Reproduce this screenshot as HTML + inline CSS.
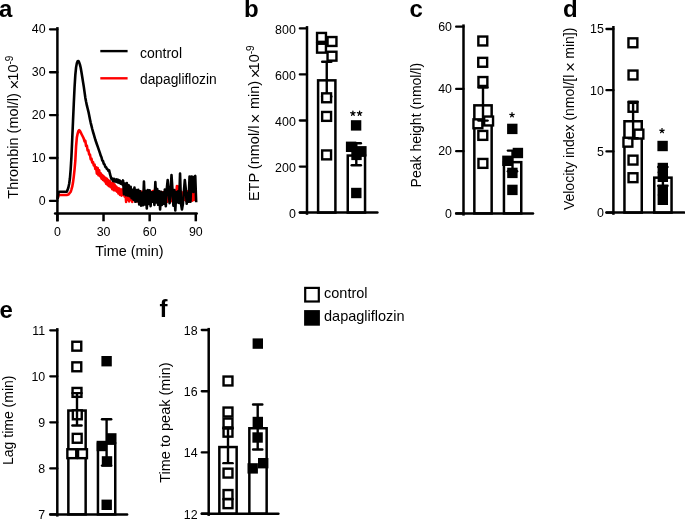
<!DOCTYPE html>
<html><head><meta charset="utf-8"><style>
html,body{margin:0;padding:0;background:#fff;}
svg{display:block;will-change:transform;}
text{font-family:"Liberation Sans",sans-serif;fill:#000;}
</style></head><body>
<svg width="685" height="519" viewBox="0 0 685 519">
<rect width="685" height="519" fill="#fff"/>
<text x="-1.00" y="17.30" font-size="24" text-anchor="start" font-weight="bold" >a</text>
<text x="244.00" y="17.30" font-size="24" text-anchor="start" font-weight="bold" >b</text>
<text x="409.60" y="17.30" font-size="24" text-anchor="start" font-weight="bold" >c</text>
<text x="562.90" y="17.30" font-size="24" text-anchor="start" font-weight="bold" >d</text>
<text x="-0.50" y="318.00" font-size="24" text-anchor="start" font-weight="bold" >e</text>
<text x="159.40" y="317.40" font-size="24" text-anchor="start" font-weight="bold" >f</text>
<polyline points="57.60,199.00 58.37,195.92 59.14,195.00 59.91,195.00 60.68,195.00 61.45,195.00 62.22,195.00 62.99,195.00 63.76,195.00 64.53,195.00 65.30,195.00 66.07,195.00 66.84,194.96 67.61,194.75 68.38,194.53 69.15,193.68 69.92,192.71 70.69,191.74 71.46,189.35 72.23,186.72 73.00,182.58 73.77,176.64 74.54,169.56 75.31,161.00 76.08,146.40 76.85,137.50 77.62,133.84 78.39,131.04 79.16,130.16 79.93,130.94 80.70,132.33 81.47,133.94 82.24,135.48 83.01,137.02 83.78,138.56 84.55,141.34 85.32,140.95 86.09,146.04 86.86,145.62 87.63,150.42 88.40,150.13 89.17,154.64 89.94,154.58 90.71,159.36 91.48,158.70 92.25,162.58 93.02,162.02 93.79,165.54 94.56,164.61 95.33,168.94 96.10,167.10 96.87,173.70 97.64,167.93 98.41,175.09 99.18,170.36 99.95,176.23 100.72,173.17 101.49,178.68 102.26,174.99 103.03,179.96 103.80,176.41 104.57,181.41 105.34,177.76 106.11,183.73 106.88,178.70 107.65,185.10 108.42,180.17 109.19,186.23 109.96,181.29 110.73,187.31 111.50,182.99 112.27,189.23 113.04,182.99 113.81,190.09 114.58,184.57 115.35,190.47 116.12,186.49 116.89,191.61 117.66,187.91 118.43,193.53 119.20,188.59 119.97,194.83 120.74,189.64 121.51,195.68 122.28,189.42 123.05,194.70 123.82,190.88 124.59,196.57 125.36,190.96 126.13,201.95 126.90,192.49 127.67,199.71 128.44,191.92 129.21,201.45 129.98,192.81 130.75,199.74 131.52,192.65 132.29,201.91 133.06,191.60 133.83,199.82 134.60,192.87 135.37,199.78 136.14,193.33 136.91,201.50 137.68,193.04 138.45,200.91 139.22,192.37 139.99,200.00 140.76,191.66 141.53,199.85 142.30,191.88 143.07,199.81 143.84,192.43 144.61,200.05 145.38,192.81 146.15,201.93 146.92,191.49 147.69,200.28 148.46,191.28 149.23,200.05 150.00,192.50 150.77,201.64 151.54,191.89 152.31,199.77 153.08,191.03 153.85,200.05 154.62,192.84 155.39,187.50 156.16,192.66 156.93,200.26 157.70,193.29 158.47,199.75 159.24,192.03 160.01,200.13 160.78,191.99 161.55,200.44 162.32,192.35 163.09,201.90 163.86,192.28 164.63,200.95 165.40,191.33 166.17,199.98 166.94,193.09 167.71,201.77 168.48,191.45 169.25,200.14 170.02,193.01 170.79,201.36 171.56,191.15 172.33,200.01 173.10,191.12 173.87,201.71 174.64,191.98 175.41,200.57 176.18,193.22 176.95,186.00 177.72,191.09 178.49,186.50 179.26,191.73 180.03,200.16 180.80,191.44 181.57,201.00 182.34,192.75 183.11,199.96 183.88,191.69 184.65,199.70 185.42,192.91 186.19,200.91 186.96,191.37 187.73,201.05 188.50,192.78 189.27,201.80 190.04,192.97 190.81,199.57 191.58,192.81 192.35,200.63 193.12,193.33 193.89,199.96 194.66,192.56 195.43,200.94" fill="none" stroke="#f00" stroke-width="2.6" stroke-linejoin="round"/>
<polyline points="57.60,199.00 58.37,193.38 59.14,191.70 59.91,191.70 60.68,191.70 61.45,191.70 62.22,191.70 62.99,191.70 63.76,191.70 64.53,191.70 65.30,191.70 66.07,191.70 66.84,191.70 67.61,189.83 68.38,187.48 69.15,184.02 69.92,178.53 70.69,169.15 71.46,156.36 72.23,138.86 73.00,121.36 73.77,104.00 74.54,87.71 75.31,75.11 76.08,67.36 76.85,63.11 77.62,61.19 78.39,60.97 79.16,62.42 79.93,64.63 80.70,67.75 81.47,72.24 82.24,77.07 83.01,81.91 83.78,86.65 84.55,92.12 85.32,97.65 86.09,101.79 86.86,105.44 87.63,108.52 88.40,111.60 89.17,115.35 89.94,119.20 90.71,122.84 91.48,125.92 92.25,129.00 93.02,131.79 93.79,134.45 94.56,137.10 95.33,139.76 96.10,142.00 96.87,144.20 97.64,146.40 98.41,148.60 99.18,150.82 99.95,153.09 100.72,155.67 101.49,157.23 102.26,160.45 103.03,161.03 103.80,163.82 104.57,164.55 105.34,166.94 106.11,167.24 106.88,168.91 107.65,169.35 108.42,170.85 109.19,170.44 109.96,173.97 110.73,176.75 111.50,179.08 112.27,178.63 113.04,180.79 113.81,178.80 114.58,181.47 115.35,179.47 116.12,181.56 116.89,179.38 117.66,182.32 118.43,179.92 119.20,182.83 119.97,180.62 120.74,183.75 121.51,181.72 122.28,184.30 123.05,180.42 124.00,194.17 124.95,183.54 125.90,195.13 126.85,183.09 127.80,195.56 128.75,185.28 129.70,196.09 130.65,186.71 131.60,198.23 132.55,189.91 133.50,199.61 134.45,187.66 135.40,201.80 136.35,189.95 137.30,201.18 138.25,189.81 139.20,204.43 140.15,191.27 141.10,205.70 142.05,193.04 143.00,205.26 143.95,181.50 144.90,204.53 145.85,191.07 146.80,208.50 147.75,189.99 148.70,204.01 149.65,190.41 150.60,206.11 151.55,192.18 152.50,201.61 153.45,191.96 154.40,204.91 155.35,182.00 156.30,202.39 157.25,188.97 158.20,204.82 159.15,191.26 160.10,209.50 161.05,191.83 162.00,204.85 162.95,192.47 163.90,203.68 164.85,189.46 165.80,206.08 166.75,189.09 167.70,180.00 168.65,190.56 169.60,203.12 170.55,192.78 171.50,175.00 172.45,189.31 173.40,205.75 174.35,189.93 175.30,210.50 176.25,192.08 177.20,202.39 178.15,191.22 179.10,202.91 180.05,173.50 181.00,203.60 181.95,209.50 182.90,203.99 183.85,191.89 184.80,180.00 185.75,188.59 186.70,203.79 187.65,193.08 188.60,201.71 189.55,176.50 190.50,201.76 191.45,176.50 192.40,177.00 193.35,191.92 194.30,177.00 195.25,176.00 196.20,202.22" fill="none" stroke="#000" stroke-width="2.6" stroke-linejoin="round"/>
<line x1="57.40" y1="27.10" x2="57.40" y2="221.30" stroke="#000" stroke-width="2.5" stroke-linecap="butt"/>
<line x1="55.10" y1="213.50" x2="196.70" y2="213.50" stroke="#000" stroke-width="2.5" stroke-linecap="round"/>
<line x1="50.00" y1="200.90" x2="57.40" y2="200.90" stroke="#000" stroke-width="2.3" stroke-linecap="round"/>
<text x="45.60" y="204.50" font-size="12.4" text-anchor="end" font-weight="normal" >0</text>
<line x1="50.00" y1="158.01" x2="57.40" y2="158.01" stroke="#000" stroke-width="2.3" stroke-linecap="round"/>
<text x="45.60" y="161.61" font-size="12.4" text-anchor="end" font-weight="normal" >10</text>
<line x1="50.00" y1="115.12" x2="57.40" y2="115.12" stroke="#000" stroke-width="2.3" stroke-linecap="round"/>
<text x="45.60" y="118.72" font-size="12.4" text-anchor="end" font-weight="normal" >20</text>
<line x1="50.00" y1="72.23" x2="57.40" y2="72.23" stroke="#000" stroke-width="2.3" stroke-linecap="round"/>
<text x="45.60" y="75.83" font-size="12.4" text-anchor="end" font-weight="normal" >30</text>
<line x1="50.00" y1="29.34" x2="57.40" y2="29.34" stroke="#000" stroke-width="2.3" stroke-linecap="round"/>
<text x="45.60" y="32.94" font-size="12.4" text-anchor="end" font-weight="normal" >40</text>
<line x1="57.40" y1="213.50" x2="57.40" y2="221.30" stroke="#000" stroke-width="2.5" stroke-linecap="butt"/>
<text x="57.40" y="235.60" font-size="12.4" text-anchor="middle" font-weight="normal" >0</text>
<line x1="103.53" y1="213.50" x2="103.53" y2="221.30" stroke="#000" stroke-width="2.5" stroke-linecap="butt"/>
<text x="103.53" y="235.60" font-size="12.4" text-anchor="middle" font-weight="normal" >30</text>
<line x1="149.66" y1="213.50" x2="149.66" y2="221.30" stroke="#000" stroke-width="2.5" stroke-linecap="butt"/>
<text x="149.66" y="235.60" font-size="12.4" text-anchor="middle" font-weight="normal" >60</text>
<line x1="195.79" y1="213.50" x2="195.79" y2="221.30" stroke="#000" stroke-width="2.5" stroke-linecap="butt"/>
<text x="195.79" y="235.60" font-size="12.4" text-anchor="middle" font-weight="normal" >90</text>
<text x="95.30" y="255.90" font-size="14.4" text-anchor="start" font-weight="normal" >Time (min)</text>
<text transform="translate(17.90,198.70) rotate(-90)" font-size="14.5">Thrombin (mol/l) <tspan font-size="17" dx="-0.5" dy="2.3">×</tspan><tspan dx="-0.96" dy="-2.3">10</tspan><tspan font-size="10" dy="-5.1">-9</tspan></text>
<line x1="100.30" y1="51.10" x2="127.60" y2="51.10" stroke="#000" stroke-width="2.4" stroke-linecap="butt"/>
<line x1="100.30" y1="78.30" x2="127.60" y2="78.30" stroke="#f00" stroke-width="2.4" stroke-linecap="butt"/>
<text x="140.00" y="57.60" font-size="14" text-anchor="start" font-weight="normal" >control</text>
<text x="140.00" y="83.60" font-size="13.8" text-anchor="start" font-weight="normal" >dapagliflozin</text>
<rect x="318.10" y="80.35" width="17.30" height="132.25" fill="#fff" stroke="#000" stroke-width="2.5"/>
<rect x="347.75" y="155.55" width="17.30" height="57.05" fill="#fff" stroke="#000" stroke-width="2.5"/>
<line x1="326.75" y1="61.70" x2="326.75" y2="96.50" stroke="#000" stroke-width="2.4" stroke-linecap="butt"/>
<line x1="322.15" y1="61.70" x2="331.35" y2="61.70" stroke="#000" stroke-width="2.4" stroke-linecap="round"/>
<line x1="322.15" y1="96.50" x2="331.35" y2="96.50" stroke="#000" stroke-width="2.4" stroke-linecap="round"/>
<line x1="356.30" y1="143.30" x2="356.30" y2="165.30" stroke="#000" stroke-width="2.4" stroke-linecap="butt"/>
<line x1="351.70" y1="143.30" x2="360.90" y2="143.30" stroke="#000" stroke-width="2.4" stroke-linecap="round"/>
<line x1="351.70" y1="165.30" x2="360.90" y2="165.30" stroke="#000" stroke-width="2.4" stroke-linecap="round"/>
<rect x="317.05" y="32.95" width="8.90" height="8.90" fill="#fff" stroke="#000" stroke-width="2.4"/>
<rect x="317.05" y="43.75" width="8.90" height="8.90" fill="#fff" stroke="#000" stroke-width="2.4"/>
<rect x="327.55" y="37.05" width="8.90" height="8.90" fill="#fff" stroke="#000" stroke-width="2.4"/>
<rect x="327.55" y="51.75" width="8.90" height="8.90" fill="#fff" stroke="#000" stroke-width="2.4"/>
<rect x="322.15" y="93.35" width="8.90" height="8.90" fill="#fff" stroke="#000" stroke-width="2.4"/>
<rect x="322.15" y="111.95" width="8.90" height="8.90" fill="#fff" stroke="#000" stroke-width="2.4"/>
<rect x="322.15" y="150.45" width="8.90" height="8.90" fill="#fff" stroke="#000" stroke-width="2.4"/>
<rect x="350.90" y="120.20" width="10.40" height="10.40" fill="#000"/>
<rect x="345.90" y="141.60" width="10.40" height="10.40" fill="#000"/>
<rect x="356.20" y="146.10" width="10.40" height="10.40" fill="#000"/>
<rect x="351.30" y="149.70" width="10.40" height="10.40" fill="#000"/>
<rect x="351.10" y="187.80" width="10.40" height="10.40" fill="#000"/>
<line x1="307.00" y1="26.10" x2="307.00" y2="214.80" stroke="#000" stroke-width="2.5" stroke-linecap="butt"/>
<line x1="299.90" y1="212.60" x2="377.40" y2="212.60" stroke="#000" stroke-width="2.5" stroke-linecap="round"/>
<line x1="299.85" y1="212.60" x2="307.00" y2="212.60" stroke="#000" stroke-width="2.3" stroke-linecap="round"/>
<text x="295.80" y="218.10" font-size="12.4" text-anchor="end" font-weight="normal" >0</text>
<line x1="299.85" y1="166.55" x2="307.00" y2="166.55" stroke="#000" stroke-width="2.3" stroke-linecap="round"/>
<text x="295.80" y="172.05" font-size="12.4" text-anchor="end" font-weight="normal" >200</text>
<line x1="299.85" y1="120.50" x2="307.00" y2="120.50" stroke="#000" stroke-width="2.3" stroke-linecap="round"/>
<text x="295.80" y="126.00" font-size="12.4" text-anchor="end" font-weight="normal" >400</text>
<line x1="299.85" y1="74.45" x2="307.00" y2="74.45" stroke="#000" stroke-width="2.3" stroke-linecap="round"/>
<text x="295.80" y="79.95" font-size="12.4" text-anchor="end" font-weight="normal" >600</text>
<line x1="299.85" y1="28.40" x2="307.00" y2="28.40" stroke="#000" stroke-width="2.3" stroke-linecap="round"/>
<text x="295.80" y="33.90" font-size="12.4" text-anchor="end" font-weight="normal" >800</text>
<text transform="translate(258.80,201.10) rotate(-90)" font-size="14.5">ETP (nmol/l <tspan font-size="17" dx="-1.8" dy="2.5">×</tspan><tspan dx="0.34" dy="-2.5"> min) </tspan><tspan font-size="17" dx="-1.5" dy="2.3">×</tspan><tspan dx="-1.96" dy="-2.3">10</tspan><tspan font-size="10" dy="-5.1">-9</tspan></text>
<line x1="352.90" y1="113.40" x2="352.90" y2="111.10" stroke="#000" stroke-width="1.25" stroke-linecap="round"/>
<line x1="352.90" y1="113.40" x2="355.09" y2="112.69" stroke="#000" stroke-width="1.25" stroke-linecap="round"/>
<line x1="352.90" y1="113.40" x2="354.25" y2="115.26" stroke="#000" stroke-width="1.25" stroke-linecap="round"/>
<line x1="352.90" y1="113.40" x2="351.55" y2="115.26" stroke="#000" stroke-width="1.25" stroke-linecap="round"/>
<line x1="352.90" y1="113.40" x2="350.71" y2="112.69" stroke="#000" stroke-width="1.25" stroke-linecap="round"/>
<line x1="359.60" y1="113.40" x2="359.60" y2="111.10" stroke="#000" stroke-width="1.25" stroke-linecap="round"/>
<line x1="359.60" y1="113.40" x2="361.79" y2="112.69" stroke="#000" stroke-width="1.25" stroke-linecap="round"/>
<line x1="359.60" y1="113.40" x2="360.95" y2="115.26" stroke="#000" stroke-width="1.25" stroke-linecap="round"/>
<line x1="359.60" y1="113.40" x2="358.25" y2="115.26" stroke="#000" stroke-width="1.25" stroke-linecap="round"/>
<line x1="359.60" y1="113.40" x2="357.41" y2="112.69" stroke="#000" stroke-width="1.25" stroke-linecap="round"/>
<rect x="474.35" y="105.35" width="17.30" height="108.05" fill="#fff" stroke="#000" stroke-width="2.5"/>
<rect x="503.95" y="162.15" width="17.30" height="51.25" fill="#fff" stroke="#000" stroke-width="2.5"/>
<rect x="478.35" y="36.55" width="8.90" height="8.90" fill="#fff" stroke="#000" stroke-width="2.4"/>
<rect x="478.25" y="57.85" width="8.90" height="8.90" fill="#fff" stroke="#000" stroke-width="2.4"/>
<rect x="478.45" y="77.05" width="8.90" height="8.90" fill="#fff" stroke="#000" stroke-width="2.4"/>
<rect x="484.15" y="116.55" width="8.90" height="8.90" fill="#fff" stroke="#000" stroke-width="2.4"/>
<rect x="473.45" y="119.35" width="8.90" height="8.90" fill="#fff" stroke="#000" stroke-width="2.4"/>
<rect x="478.35" y="130.95" width="8.90" height="8.90" fill="#fff" stroke="#000" stroke-width="2.4"/>
<rect x="478.45" y="158.95" width="8.90" height="8.90" fill="#fff" stroke="#000" stroke-width="2.4"/>
<rect x="507.10" y="123.70" width="10.40" height="10.40" fill="#000"/>
<rect x="512.70" y="147.80" width="10.40" height="10.40" fill="#000"/>
<rect x="502.20" y="155.60" width="10.40" height="10.40" fill="#000"/>
<rect x="507.20" y="167.70" width="10.40" height="10.40" fill="#000"/>
<rect x="507.20" y="184.70" width="10.40" height="10.40" fill="#000"/>
<line x1="483.00" y1="87.60" x2="483.00" y2="120.60" stroke="#000" stroke-width="2.4" stroke-linecap="butt"/>
<line x1="478.40" y1="87.60" x2="487.60" y2="87.60" stroke="#000" stroke-width="2.4" stroke-linecap="round"/>
<line x1="478.40" y1="120.60" x2="487.60" y2="120.60" stroke="#000" stroke-width="2.4" stroke-linecap="round"/>
<line x1="512.50" y1="150.60" x2="512.50" y2="171.20" stroke="#000" stroke-width="2.4" stroke-linecap="butt"/>
<line x1="507.90" y1="150.60" x2="517.10" y2="150.60" stroke="#000" stroke-width="2.4" stroke-linecap="round"/>
<line x1="507.90" y1="171.20" x2="517.10" y2="171.20" stroke="#000" stroke-width="2.4" stroke-linecap="round"/>
<line x1="463.50" y1="24.40" x2="463.50" y2="215.60" stroke="#000" stroke-width="2.5" stroke-linecap="butt"/>
<line x1="456.20" y1="213.40" x2="533.00" y2="213.40" stroke="#000" stroke-width="2.5" stroke-linecap="round"/>
<line x1="456.15" y1="213.40" x2="463.50" y2="213.40" stroke="#000" stroke-width="2.3" stroke-linecap="round"/>
<text x="452.00" y="217.60" font-size="12.4" text-anchor="end" font-weight="normal" >0</text>
<line x1="456.15" y1="151.17" x2="463.50" y2="151.17" stroke="#000" stroke-width="2.3" stroke-linecap="round"/>
<text x="452.00" y="155.37" font-size="12.4" text-anchor="end" font-weight="normal" >20</text>
<line x1="456.15" y1="88.93" x2="463.50" y2="88.93" stroke="#000" stroke-width="2.3" stroke-linecap="round"/>
<text x="452.00" y="93.13" font-size="12.4" text-anchor="end" font-weight="normal" >40</text>
<line x1="456.15" y1="26.70" x2="463.50" y2="26.70" stroke="#000" stroke-width="2.3" stroke-linecap="round"/>
<text x="452.00" y="30.90" font-size="12.4" text-anchor="end" font-weight="normal" >60</text>
<text transform="translate(421.30,187.40) rotate(-90)" font-size="14">Peak height (nmol/l)</text>
<line x1="512.00" y1="115.00" x2="512.00" y2="112.70" stroke="#000" stroke-width="1.25" stroke-linecap="round"/>
<line x1="512.00" y1="115.00" x2="514.19" y2="114.29" stroke="#000" stroke-width="1.25" stroke-linecap="round"/>
<line x1="512.00" y1="115.00" x2="513.35" y2="116.86" stroke="#000" stroke-width="1.25" stroke-linecap="round"/>
<line x1="512.00" y1="115.00" x2="510.65" y2="116.86" stroke="#000" stroke-width="1.25" stroke-linecap="round"/>
<line x1="512.00" y1="115.00" x2="509.81" y2="114.29" stroke="#000" stroke-width="1.25" stroke-linecap="round"/>
<rect x="624.45" y="121.25" width="17.30" height="91.35" fill="#fff" stroke="#000" stroke-width="2.5"/>
<rect x="654.25" y="177.65" width="17.30" height="34.95" fill="#fff" stroke="#000" stroke-width="2.5"/>
<rect x="628.45" y="38.35" width="8.90" height="8.90" fill="#fff" stroke="#000" stroke-width="2.4"/>
<rect x="628.55" y="70.55" width="8.90" height="8.90" fill="#fff" stroke="#000" stroke-width="2.4"/>
<rect x="628.55" y="102.85" width="8.90" height="8.90" fill="#fff" stroke="#000" stroke-width="2.4"/>
<rect x="634.45" y="129.65" width="8.90" height="8.90" fill="#fff" stroke="#000" stroke-width="2.4"/>
<rect x="623.45" y="137.75" width="8.90" height="8.90" fill="#fff" stroke="#000" stroke-width="2.4"/>
<rect x="628.55" y="155.65" width="8.90" height="8.90" fill="#fff" stroke="#000" stroke-width="2.4"/>
<rect x="628.55" y="173.25" width="8.90" height="8.90" fill="#fff" stroke="#000" stroke-width="2.4"/>
<rect x="657.40" y="140.80" width="10.40" height="10.40" fill="#000"/>
<rect x="657.60" y="162.80" width="10.40" height="10.40" fill="#000"/>
<rect x="657.60" y="171.60" width="10.40" height="10.40" fill="#000"/>
<rect x="657.60" y="185.00" width="10.40" height="10.40" fill="#000"/>
<rect x="657.60" y="194.60" width="10.40" height="10.40" fill="#000"/>
<line x1="633.10" y1="101.70" x2="633.10" y2="138.30" stroke="#000" stroke-width="2.4" stroke-linecap="butt"/>
<line x1="628.50" y1="101.70" x2="637.70" y2="101.70" stroke="#000" stroke-width="2.4" stroke-linecap="round"/>
<line x1="628.50" y1="138.30" x2="637.70" y2="138.30" stroke="#000" stroke-width="2.4" stroke-linecap="round"/>
<line x1="662.90" y1="167.00" x2="662.90" y2="185.80" stroke="#000" stroke-width="2.4" stroke-linecap="butt"/>
<line x1="658.30" y1="167.00" x2="667.50" y2="167.00" stroke="#000" stroke-width="2.4" stroke-linecap="round"/>
<line x1="658.30" y1="185.80" x2="667.50" y2="185.80" stroke="#000" stroke-width="2.4" stroke-linecap="round"/>
<line x1="613.40" y1="26.00" x2="613.40" y2="214.80" stroke="#000" stroke-width="2.5" stroke-linecap="butt"/>
<line x1="606.50" y1="212.60" x2="684.30" y2="212.60" stroke="#000" stroke-width="2.5" stroke-linecap="round"/>
<line x1="606.45" y1="212.60" x2="613.40" y2="212.60" stroke="#000" stroke-width="2.3" stroke-linecap="round"/>
<text x="603.80" y="217.00" font-size="12.4" text-anchor="end" font-weight="normal" >0</text>
<line x1="606.45" y1="151.40" x2="613.40" y2="151.40" stroke="#000" stroke-width="2.3" stroke-linecap="round"/>
<text x="603.80" y="155.80" font-size="12.4" text-anchor="end" font-weight="normal" >5</text>
<line x1="606.45" y1="90.20" x2="613.40" y2="90.20" stroke="#000" stroke-width="2.3" stroke-linecap="round"/>
<text x="603.80" y="94.60" font-size="12.4" text-anchor="end" font-weight="normal" >10</text>
<line x1="606.45" y1="29.00" x2="613.40" y2="29.00" stroke="#000" stroke-width="2.3" stroke-linecap="round"/>
<text x="603.80" y="33.40" font-size="12.4" text-anchor="end" font-weight="normal" >15</text>
<text transform="translate(574.20,210.10) rotate(-90)" font-size="14">Velocity index (nmol/[l <tspan font-size="17" dx="-1.1" dy="1.5">×</tspan><tspan dx="-0.65" dy="-1.5"> min])</tspan></text>
<line x1="662.00" y1="130.80" x2="662.00" y2="128.50" stroke="#000" stroke-width="1.25" stroke-linecap="round"/>
<line x1="662.00" y1="130.80" x2="664.19" y2="130.09" stroke="#000" stroke-width="1.25" stroke-linecap="round"/>
<line x1="662.00" y1="130.80" x2="663.35" y2="132.66" stroke="#000" stroke-width="1.25" stroke-linecap="round"/>
<line x1="662.00" y1="130.80" x2="660.65" y2="132.66" stroke="#000" stroke-width="1.25" stroke-linecap="round"/>
<line x1="662.00" y1="130.80" x2="659.81" y2="130.09" stroke="#000" stroke-width="1.25" stroke-linecap="round"/>
<rect x="68.35" y="410.55" width="17.30" height="103.85" fill="#fff" stroke="#000" stroke-width="2.5"/>
<rect x="97.95" y="443.65" width="17.30" height="70.75" fill="#fff" stroke="#000" stroke-width="2.5"/>
<rect x="72.35" y="341.75" width="8.90" height="8.90" fill="#fff" stroke="#000" stroke-width="2.4"/>
<rect x="72.35" y="362.35" width="8.90" height="8.90" fill="#fff" stroke="#000" stroke-width="2.4"/>
<rect x="72.55" y="387.95" width="8.90" height="8.90" fill="#fff" stroke="#000" stroke-width="2.4"/>
<rect x="72.85" y="410.35" width="8.90" height="8.90" fill="#fff" stroke="#000" stroke-width="2.4"/>
<rect x="72.75" y="433.85" width="8.90" height="8.90" fill="#fff" stroke="#000" stroke-width="2.4"/>
<rect x="67.35" y="449.25" width="8.90" height="8.90" fill="#fff" stroke="#000" stroke-width="2.4"/>
<rect x="78.05" y="449.25" width="8.90" height="8.90" fill="#fff" stroke="#000" stroke-width="2.4"/>
<rect x="101.40" y="356.00" width="10.40" height="10.40" fill="#000"/>
<rect x="106.10" y="433.20" width="10.40" height="10.40" fill="#000"/>
<rect x="96.60" y="440.80" width="10.40" height="10.40" fill="#000"/>
<rect x="101.80" y="456.20" width="10.40" height="10.40" fill="#000"/>
<rect x="101.50" y="499.60" width="10.40" height="10.40" fill="#000"/>
<line x1="77.00" y1="393.10" x2="77.00" y2="425.50" stroke="#000" stroke-width="2.4" stroke-linecap="butt"/>
<line x1="72.40" y1="393.10" x2="81.60" y2="393.10" stroke="#000" stroke-width="2.4" stroke-linecap="round"/>
<line x1="72.40" y1="425.50" x2="81.60" y2="425.50" stroke="#000" stroke-width="2.4" stroke-linecap="round"/>
<line x1="106.60" y1="419.20" x2="106.60" y2="465.60" stroke="#000" stroke-width="2.4" stroke-linecap="butt"/>
<line x1="102.00" y1="419.20" x2="111.20" y2="419.20" stroke="#000" stroke-width="2.4" stroke-linecap="round"/>
<line x1="102.00" y1="465.60" x2="111.20" y2="465.60" stroke="#000" stroke-width="2.4" stroke-linecap="round"/>
<line x1="57.30" y1="328.10" x2="57.30" y2="516.60" stroke="#000" stroke-width="2.5" stroke-linecap="butt"/>
<line x1="50.30" y1="514.40" x2="127.10" y2="514.40" stroke="#000" stroke-width="2.5" stroke-linecap="round"/>
<line x1="50.25" y1="514.40" x2="57.30" y2="514.40" stroke="#000" stroke-width="2.3" stroke-linecap="round"/>
<text x="45.20" y="518.60" font-size="12.4" text-anchor="end" font-weight="normal" >7</text>
<line x1="50.25" y1="468.38" x2="57.30" y2="468.38" stroke="#000" stroke-width="2.3" stroke-linecap="round"/>
<text x="45.20" y="472.57" font-size="12.4" text-anchor="end" font-weight="normal" >8</text>
<line x1="50.25" y1="422.35" x2="57.30" y2="422.35" stroke="#000" stroke-width="2.3" stroke-linecap="round"/>
<text x="45.20" y="426.55" font-size="12.4" text-anchor="end" font-weight="normal" >9</text>
<line x1="50.25" y1="376.32" x2="57.30" y2="376.32" stroke="#000" stroke-width="2.3" stroke-linecap="round"/>
<text x="45.20" y="380.52" font-size="12.4" text-anchor="end" font-weight="normal" >10</text>
<line x1="50.25" y1="330.30" x2="57.30" y2="330.30" stroke="#000" stroke-width="2.3" stroke-linecap="round"/>
<text x="45.20" y="334.50" font-size="12.4" text-anchor="end" font-weight="normal" >11</text>
<text transform="translate(13.30,465.00) rotate(-90)" font-size="14">Lag time (min)</text>
<rect x="219.35" y="447.05" width="17.30" height="66.65" fill="#fff" stroke="#000" stroke-width="2.5"/>
<rect x="249.35" y="428.25" width="17.30" height="85.45" fill="#fff" stroke="#000" stroke-width="2.5"/>
<rect x="223.55" y="376.55" width="8.90" height="8.90" fill="#fff" stroke="#000" stroke-width="2.4"/>
<rect x="223.55" y="407.55" width="8.90" height="8.90" fill="#fff" stroke="#000" stroke-width="2.4"/>
<rect x="223.55" y="418.55" width="8.90" height="8.90" fill="#fff" stroke="#000" stroke-width="2.4"/>
<rect x="223.55" y="427.75" width="8.90" height="8.90" fill="#fff" stroke="#000" stroke-width="2.4"/>
<rect x="223.55" y="468.65" width="8.90" height="8.90" fill="#fff" stroke="#000" stroke-width="2.4"/>
<rect x="223.55" y="490.05" width="8.90" height="8.90" fill="#fff" stroke="#000" stroke-width="2.4"/>
<rect x="223.55" y="499.25" width="8.90" height="8.90" fill="#fff" stroke="#000" stroke-width="2.4"/>
<rect x="252.60" y="338.40" width="10.40" height="10.40" fill="#000"/>
<rect x="252.60" y="416.80" width="10.40" height="10.40" fill="#000"/>
<rect x="252.40" y="432.30" width="10.40" height="10.40" fill="#000"/>
<rect x="258.00" y="458.00" width="10.40" height="10.40" fill="#000"/>
<rect x="247.50" y="463.20" width="10.40" height="10.40" fill="#000"/>
<line x1="228.00" y1="428.45" x2="228.00" y2="463.15" stroke="#000" stroke-width="2.4" stroke-linecap="butt"/>
<line x1="223.40" y1="428.45" x2="232.60" y2="428.45" stroke="#000" stroke-width="2.4" stroke-linecap="round"/>
<line x1="223.40" y1="463.15" x2="232.60" y2="463.15" stroke="#000" stroke-width="2.4" stroke-linecap="round"/>
<line x1="257.70" y1="404.55" x2="257.70" y2="449.45" stroke="#000" stroke-width="2.4" stroke-linecap="butt"/>
<line x1="253.10" y1="404.55" x2="262.30" y2="404.55" stroke="#000" stroke-width="2.4" stroke-linecap="round"/>
<line x1="253.10" y1="449.45" x2="262.30" y2="449.45" stroke="#000" stroke-width="2.4" stroke-linecap="round"/>
<line x1="208.70" y1="327.90" x2="208.70" y2="515.90" stroke="#000" stroke-width="2.5" stroke-linecap="butt"/>
<line x1="201.80" y1="513.70" x2="278.40" y2="513.70" stroke="#000" stroke-width="2.5" stroke-linecap="round"/>
<line x1="201.75" y1="513.70" x2="208.70" y2="513.70" stroke="#000" stroke-width="2.3" stroke-linecap="round"/>
<text x="197.60" y="518.60" font-size="12.4" text-anchor="end" font-weight="normal" >12</text>
<line x1="201.75" y1="452.47" x2="208.70" y2="452.47" stroke="#000" stroke-width="2.3" stroke-linecap="round"/>
<text x="197.60" y="457.37" font-size="12.4" text-anchor="end" font-weight="normal" >14</text>
<line x1="201.75" y1="391.23" x2="208.70" y2="391.23" stroke="#000" stroke-width="2.3" stroke-linecap="round"/>
<text x="197.60" y="396.13" font-size="12.4" text-anchor="end" font-weight="normal" >16</text>
<line x1="201.75" y1="330.00" x2="208.70" y2="330.00" stroke="#000" stroke-width="2.3" stroke-linecap="round"/>
<text x="197.60" y="334.90" font-size="12.4" text-anchor="end" font-weight="normal" >18</text>
<text transform="translate(170.20,482.80) rotate(-90)" font-size="14.5">Time to peak (min)</text>
<rect x="305.20" y="287.90" width="13.6" height="13.6" fill="#fff" stroke="#000" stroke-width="2.2"/>
<rect x="304.1" y="310.1" width="15.8" height="15.6" fill="#000"/>
<text x="324.00" y="298.40" font-size="14.5" text-anchor="start" font-weight="normal" >control</text>
<text x="324.00" y="320.90" font-size="14.5" text-anchor="start" font-weight="normal" >dapagliflozin</text>
</svg></body></html>
